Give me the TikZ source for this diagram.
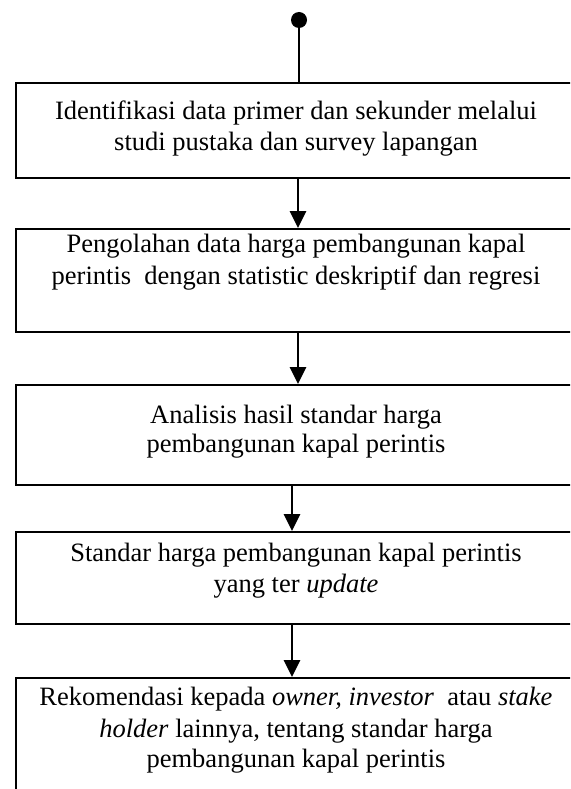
\documentclass[tikz,border=0pt]{standalone}
\usepackage{fontspec}
\setmainfont{Liberation Serif}
\usetikzlibrary{arrows.meta}
\begin{document}
\begin{tikzpicture}[x=1pt,y=-1pt,
  box/.style={draw, line width=2pt, minimum width=560pt, inner sep=0pt},
  txt/.style={anchor=base, inner sep=0pt, font=\fontsize{26.5pt}{30pt}\selectfont},
  arr/.style={line width=2.8pt, -{Triangle[width=16pt,length=17pt]}},
  ]
\useasboundingbox (0,0) rectangle (570,789);
\clip (0,0) rectangle (570,789);
\fill[white] (0,0) rectangle (570,789);
% boxes
\node[box, minimum height=95pt]  (b1) at (296,130.5) {};
\node[box, minimum height=103pt] (b2) at (296,280.5) {};
\node[box, minimum height=100pt] (b3) at (296,435) {};
\node[box, minimum height=92pt]  (b4) at (296,578) {};
\node[box, minimum height=130pt] (b5) at (296,743) {};
% texts
\node[txt] (t1a) at (296,120) {Identifikasi data primer dan sekunder melalui};
\node[txt] (t1b) at (296,150) {studi pustaka dan survey lapangan};
\node[txt] (t2a) at (296,252) {Pengolahan data harga pembangunan kapal};
\node[txt] (t2b) at (296,284) {perintis\ \ dengan statistic deskriptif dan regresi};
\node[txt] (t3a) at (296,423) {Analisis hasil standar harga};
\node[txt] (t3b) at (296,452) {pembangunan kapal perintis};
\node[txt] (t4a) at (296,561) {Standar harga pembangunan kapal perintis};
\node[txt] (t4b) at (296,592) {yang ter \textit{update}};
\node[txt] (t5a) at (296,705) {Rekomendasi kepada \textit{owner, investor}\ \ atau \textit{stake}};
\node[txt] (t5b) at (296,737) {\textit{holder} lainnya, tentang standar harga};
\node[txt] (t5c) at (296,767) {pembangunan kapal perintis};
% start dot and connectors
\node[circle, fill, inner sep=0pt, minimum size=16pt] (start) at (299,20) {};
\draw[line width=2.8pt] (start.center) -- (start.center |- b1.north);
\draw[arr] ([xshift=2pt]b1.south) -- ([xshift=2pt]b2.north);
\draw[arr] ([xshift=2pt]b2.south) -- ([xshift=2pt]b3.north);
\draw[arr] ([xshift=-4pt]b3.south) -- ([xshift=-4pt]b4.north);
\draw[arr] ([xshift=-4pt]b4.south) -- ([xshift=-4pt]b5.north);
\end{tikzpicture}
\end{document}
